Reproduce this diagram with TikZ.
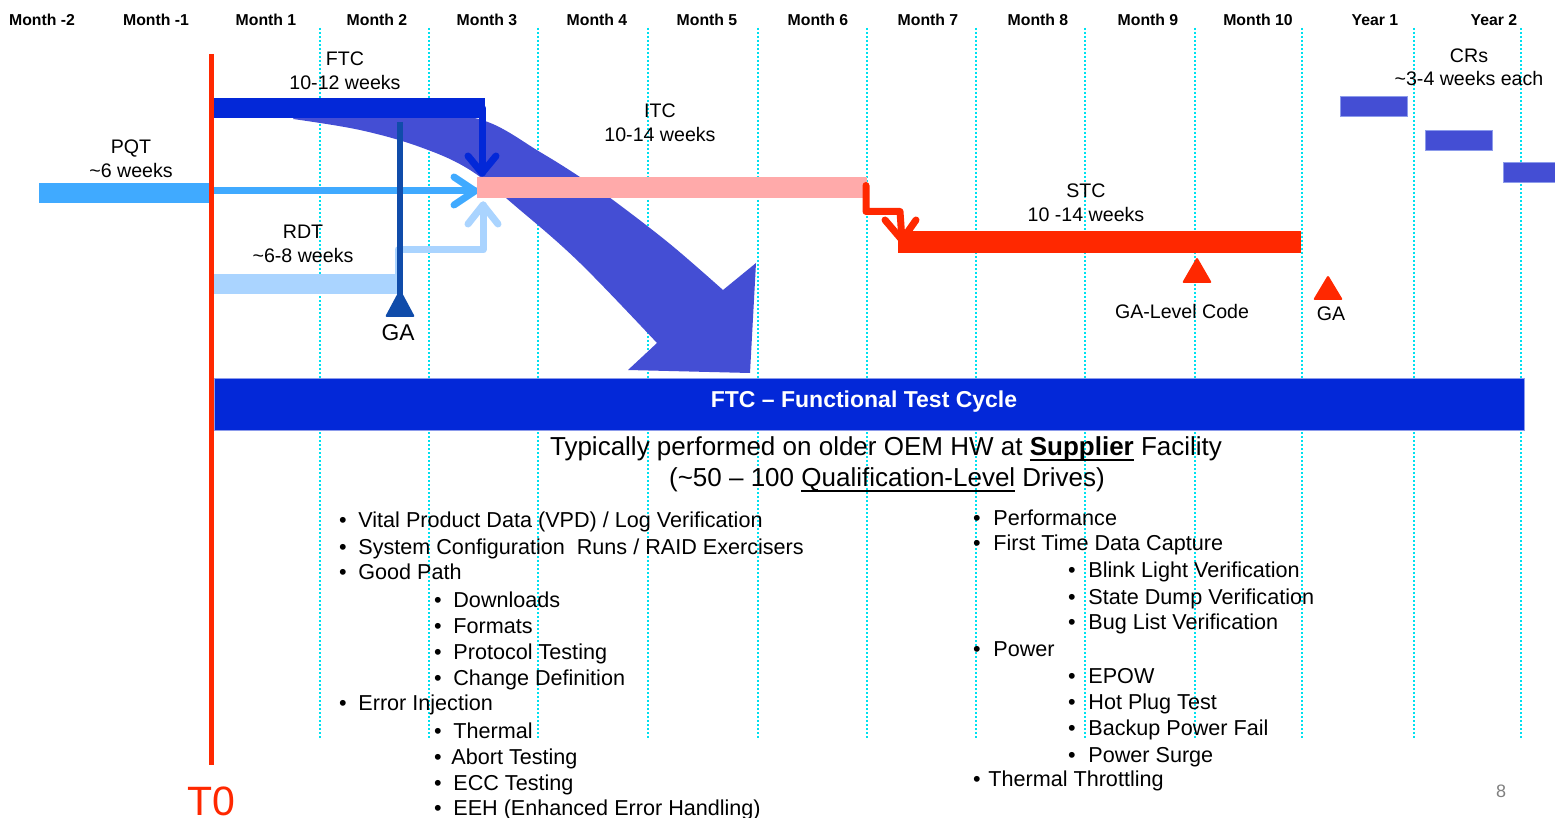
\documentclass[tikz,border=0pt]{standalone}
\usepackage{fontspec}
\setmainfont{Liberation Sans}
\definecolor{ftcblue}{RGB}{3,40,216}
\definecolor{pqtblue}{RGB}{64,170,255}
\definecolor{rdtblue}{RGB}{170,212,255}
\definecolor{gablue}{RGB}{16,76,170}
\definecolor{itcpink}{RGB}{255,170,170}
\definecolor{tred}{RGB}{255,40,0}
\definecolor{gridcyan}{RGB}{0,225,240}
\definecolor{arrblue}{RGB}{68,78,212}
\definecolor{edgeblue}{RGB}{140,155,235}
\newcommand\myul[1]{\setbox0\hbox{#1}\rlap{\rule[-2.6pt]{\wd0}{0.9pt}}\box0\relax}
\begin{document}
\begin{tikzpicture}[x=0.5pt,y=-0.5pt,
  gridline/.style={gridcyan,line width=1pt,dash pattern=on 1pt off 1pt},
  bar/.style={anchor=north west,inner sep=0,outer sep=0,draw=none,minimum height=10pt},
  conn/.style={line width=3.5pt,line cap=round,line join=round},
  lbl/.style={font=\fontsize{9.8}{12}\selectfont,anchor=base,inner sep=0},
  mon/.style={font=\bfseries\fontsize{7.9}{9}\selectfont,anchor=base,inner sep=0},
  item/.style={font=\fontsize{10.8}{13}\selectfont,anchor=base west,inner sep=0},
  bul/.style={font=\fontsize{10.8}{13}\selectfont,anchor=base,inner sep=0},
  head/.style={font=\fontsize{13}{15}\selectfont,anchor=base,inner sep=0},
  tri/.style={rounded corners=1pt}]
\useasboundingbox (0,0) rectangle (1555,818);
\fill[white] (0,0) rectangle (1555,818);

% month header
\foreach \x/\t [count=\i] in {42/Month -2,156/Month -1,266/Month 1,377/Month 2,487/Month 3,597/Month 4,707/Month 5,818/Month 6,928/Month 7,1038/Month 8,1148/Month 9,1258/Month 10,1375/Year 1,1494/Year 2}
  \node[mon] (m\i) at (\x,26) {\t};

% dotted grid
\foreach \x in {320,429,538,648,758,867,976,1085,1195,1302,1414,1521}
  \draw[gridline] (\x,28) -- (\x,738);

% big curved arrow
\fill[arrblue] (300,110) -- plot[smooth,tension=0.6] coordinates {(300,110) (420,112) (485,121) (540,152) (580,177) (613,200) (670,244) (723,290)}
  -- (756,263) -- (750,373) -- (628,370)
  -- plot[smooth,tension=0.6] coordinates {(657,343) (580,263) (520,210) (470,170) (420,147) (360,130) (293,119)} -- cycle;

% bars
\node[bar,fill=pqtblue,minimum width=86pt] (pqt) at (39,183) {};
\node[bar,fill=rdtblue,minimum width=93.5pt] (rdt) at (213,274) {};
\node[bar,fill=ftcblue,minimum width=136pt] (ftc) at (213,98) {};

% connectors into ITC
\coordinate (pqtTip) at (475,191);
\coordinate (ftcTip) at (482,173);
\coordinate (rdtTip) at (483,205);
\draw[conn,pqtblue] (pqt.east |- pqtTip) -- (pqtTip);
\draw[conn,pqtblue] (pqtTip) ++(-21,-14) -- (pqtTip) -- ++(-21,14);
\draw[conn,rdtblue] (rdt.north east) ++(-2,5) -- ++(0,-29) -| (rdtTip);
\draw[conn,rdtblue] (rdtTip) ++(-15,19) -- (rdtTip) -- ++(15,19);
\draw[conn,ftcblue] (ftcTip |- ftc.east) -- (ftcTip);
\draw[conn,ftcblue] (ftcTip) ++(-14,-17) -- (ftcTip) -- ++(14,-17);

% ITC bar
\node[bar,fill=itcpink,minimum width=195pt,minimum height=10.5pt] (itc) at (477,177) {};

% GA (left)
\draw[gablue,line width=3pt] (400,122) -- (400,300);
\fill[gablue,tri] (400,289) -- (415,317) -- (385,317) -- cycle;
\node[lbl,font=\fontsize{11.4}{13}\selectfont] (gaL) at (398,341) {GA};

% T0 line
\draw[tred,line width=2.5pt] (211,54) -- (211,765);
\node[anchor=base,inner sep=0,text=tred,font=\fontsize{20.5}{24}\selectfont] (t0) at (211,815) {T0};

% STC
\coordinate (stcTip) at (902,240);
\node[bar,fill=tred,minimum width=201.5pt,minimum height=11pt] (stc) at (898,231) {};
\draw[conn,tred] (itc.east) ++(-1,-2) |- ++(34,26) -- (stcTip);
\draw[conn,tred] (stcTip) ++(-17,-20) -- (stcTip) -- ++(14,-20);
\fill[tred,tri] (1197,257) -- (1212,283) -- (1182,283) -- cycle;
\fill[tred,tri] (1328,275) -- (1343,300) -- (1313,300) -- cycle;

% CR boxes
\node[bar,fill=arrblue,draw=edgeblue,line width=0.5pt,minimum width=33.5pt] (cr1) at (1340,97) {};
\node[bar,fill=arrblue,draw=edgeblue,line width=0.5pt,minimum width=33.5pt] (cr2) at (1425,131) {};
\node[bar,fill=arrblue,draw=edgeblue,line width=0.5pt,minimum width=26pt] (cr3) at (1503,163) {};

% labels
\node[lbl] (pqtA) at (131,154) {PQT};
\node[lbl] (pqtB) at (131,178) {\textasciitilde6 weeks};
\node[lbl] (ftcA) at (345,66) {FTC};
\node[lbl] (ftcB) at (345,90) {10-12 weeks};
\node[lbl] (rdtA) at (303,239) {RDT};
\node[lbl] (rdtB) at (303,263) {\textasciitilde6-8 weeks};
\node[lbl] (itcA) at (660,118) {ITC};
\node[lbl] (itcB) at (660,142) {10-14 weeks};
\node[lbl] (stcA) at (1086,198) {STC};
\node[lbl] (stcB) at (1086,222) {10 -14 weeks};
\node[lbl] (glc) at (1182,319) {GA-Level Code};
\node[lbl] (gaR) at (1331,321) {GA};
\node[lbl] (crA) at (1469,63) {CRs};
\node[lbl] (crB) at (1469,86) {\textasciitilde3-4 weeks each};

% bottom band
\node[bar,fill=ftcblue,draw=edgeblue,line width=0.5pt,minimum width=655pt,minimum height=26pt] (band) at (214,379) {};
\node[anchor=base,inner sep=0,text=white,font=\bfseries\fontsize{11.5}{13}\selectfont] (bandT) at (864,408) {FTC – Functional Test Cycle};

\node[head] (h1) at (886,456) {Typically performed on older OEM HW at \myul{\textbf{Supplier}} Facility};
\node[head] (h2) at (887,487) {(\textasciitilde50 – 100 \myul{Qualification-Level} Drives)};

% left list
\foreach \bx/\tx/\y/\t [count=\i] in {
  343/358/528/{Vital Product Data (VPD) / Log Verification},
  343/358/554/{System Configuration\ \ Runs / RAID Exercisers},
  343/358/580/{Good Path},
  438/453/607/{Downloads},
  438/453/633/{Formats},
  438/453/659/{Protocol Testing},
  438/453/685/{Change Definition},
  343/358/711/{Error Injection},
  438/453/738/{Thermal},
  438/451/764/{Abort Testing},
  438/453/790/{ECC Testing},
  438/453/815/{EEH (Enhanced Error Handling)}}
{
  \node[bul] (lb\i) at (\bx,\y) {\textbullet};
  \node[item] (lt\i) at (\tx,\y) {\t};
}

% right list
\foreach \bx/\tx/\y/\t [count=\i] in {
  977/993/525/{Performance},
  977/993/551/{First Time Data Capture},
  1072/1088/578/{Blink Light Verification},
  1072/1088/604/{State Dump Verification},
  1072/1088/630/{Bug List Verification},
  977/993/656/{Power},
  1072/1088/683/{EPOW},
  1072/1088/709/{Hot Plug Test},
  1072/1088/735/{Backup Power Fail},
  1072/1088/762/{Power Surge},
  977/988/786/{Thermal Throttling}}
{
  \node[bul] (rb\i) at (\bx,\y) {\textbullet};
  \node[item] (rt\i) at (\tx,\y) {\t};
}

\node[anchor=base,inner sep=0,text=gray,font=\fontsize{9}{11}\selectfont] (pg) at (1501,797) {8};
\end{tikzpicture}
\end{document}
